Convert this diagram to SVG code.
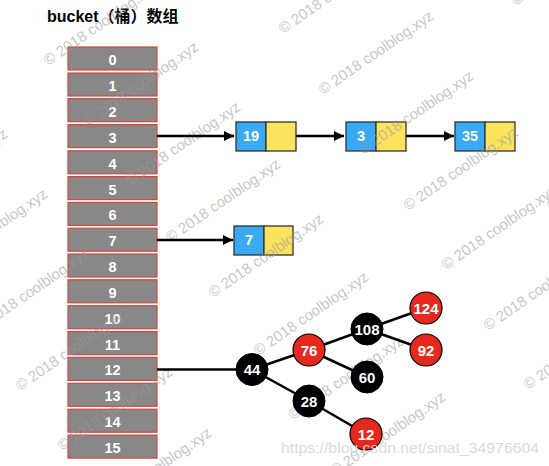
<svg xmlns="http://www.w3.org/2000/svg" width="549" height="466" viewBox="0 0 549 466">
<style>
.cell rect{fill:#888888;stroke:#d8453b;stroke-width:1.2}
.cell text,.lbl{font-family:"Liberation Sans",Arial,sans-serif;font-weight:bold;font-size:14.5px;fill:#fff;text-anchor:middle}
.blue{fill:#3aa9f4;stroke:#333;stroke-width:1.3}
.yel{fill:#fbe35e;stroke:#333;stroke-width:1.3}
.blk{fill:#000;stroke:#000;stroke-width:1}
.red{fill:#e7291d;stroke:#000;stroke-width:1.2}
.edge{stroke:#000;stroke-width:2.5;fill:none}
.tn{font-family:"Liberation Sans",Arial,sans-serif;font-weight:bold;font-size:15px;fill:#fff;text-anchor:middle}
.wm{font-family:"Liberation Sans",Arial,sans-serif;font-size:15px;fill:#9a9a9a;opacity:0.55}
</style>
<defs>
<marker id="ah" viewBox="0 0 10 10" refX="10" refY="5" markerWidth="4" markerHeight="4" orient="auto" markerUnits="strokeWidth">
<path d="M0,0 L10,5 L0,10 z" fill="#000"/>
</marker>
</defs>
<rect width="549" height="466" fill="#fff"/>
<text x="47" y="22" font-family="'Liberation Sans','Noto Sans CJK SC',sans-serif" font-weight="bold" font-size="16" fill="#000">bucket（桶）数组</text>

<g id="bucket">
<g class="cell" id="b0"><rect x="68" y="47" width="89" height="23"/><text x="112.5" y="65">0</text></g>
<g class="cell" id="b1"><rect x="68" y="73" width="89" height="23"/><text x="112.5" y="91">1</text></g>
<g class="cell" id="b2"><rect x="68" y="98.7" width="89" height="23"/><text x="112.5" y="116.7">2</text></g>
<g class="cell" id="b3"><rect x="68" y="124.6" width="89" height="23"/><text x="112.5" y="142.6">3</text></g>
<g class="cell" id="b4"><rect x="68" y="150.8" width="89" height="23"/><text x="112.5" y="168.8">4</text></g>
<g class="cell" id="b5"><rect x="68" y="176.6" width="89" height="23"/><text x="112.5" y="194.6">5</text></g>
<g class="cell" id="b6"><rect x="68" y="202.4" width="89" height="23"/><text x="112.5" y="220.4">6</text></g>
<g class="cell" id="b7"><rect x="68" y="228.2" width="89" height="23"/><text x="112.5" y="246.2">7</text></g>
<g class="cell" id="b8"><rect x="68" y="254" width="89" height="23"/><text x="112.5" y="272">8</text></g>
<g class="cell" id="b9"><rect x="68" y="279.8" width="89" height="23"/><text x="112.5" y="297.8">9</text></g>
<g class="cell" id="b10"><rect x="68" y="305.7" width="89" height="23"/><text x="112.5" y="323.7">10</text></g>
<g class="cell" id="b11"><rect x="68" y="331.6" width="89" height="23"/><text x="112.5" y="349.6">11</text></g>
<g class="cell" id="b12"><rect x="68" y="357.4" width="89" height="23"/><text x="112.5" y="375.4">12</text></g>
<g class="cell" id="b13"><rect x="68" y="383.3" width="89" height="23"/><text x="112.5" y="401.3">13</text></g>
<g class="cell" id="b14"><rect x="68" y="409.2" width="89" height="23"/><text x="112.5" y="427.2">14</text></g>
<g class="cell" id="b15"><rect x="68" y="435.1" width="89" height="23"/><text x="112.5" y="453.1">15</text></g>
</g>

<g id="n19"><rect class="blue" x="236" y="122" width="30" height="29"/><rect class="yel" x="266" y="122" width="30" height="29"/><text class="lbl" x="251" y="141">19</text></g>
<g id="n3"><rect class="blue" x="346" y="122" width="30" height="29"/><rect class="yel" x="376" y="122" width="30" height="29"/><text class="lbl" x="361" y="141">3</text></g>
<g id="n35"><rect class="blue" x="455" y="122" width="30" height="29"/><rect class="yel" x="485" y="122" width="30" height="29"/><text class="lbl" x="470" y="141">35</text></g>
<g id="n7"><rect class="blue" x="234" y="226" width="30" height="29"/><rect class="yel" x="264" y="226" width="29" height="29"/><text class="lbl" x="249" y="245">7</text></g>

<g id="watermarks">
<text class="wm" transform="translate(48,66) rotate(-34.5)">© 2018 coolblog.xyz</text>
<text class="wm" transform="translate(88,126) rotate(-34.5)">© 2018 coolblog.xyz</text>
<text class="wm" transform="translate(130,186) rotate(-34.5)">© 2018 coolblog.xyz</text>
<text class="wm" transform="translate(283,34) rotate(-34.5)">© 2018 coolblog.xyz</text>
<text class="wm" transform="translate(323,95) rotate(-34.5)">© 2018 coolblog.xyz</text>
<text class="wm" transform="translate(516,6) rotate(-34.5)">© 2018 coolblog.xyz</text>
<text class="wm" transform="translate(363,155) rotate(-34.5)">© 2018 coolblog.xyz</text>
<text class="wm" transform="translate(408,211) rotate(-34.5)">© 2018 coolblog.xyz</text>
<text class="wm" transform="translate(446,270) rotate(-34.5)">© 2018 coolblog.xyz</text>
<text class="wm" transform="translate(488,331) rotate(-34.5)">© 2018 coolblog.xyz</text>
<text class="wm" transform="translate(528,390) rotate(-34.5)">© 2018 coolblog.xyz</text>
<text class="wm" transform="translate(170,243) rotate(-34.5)">© 2018 coolblog.xyz</text>
<text class="wm" transform="translate(213,298) rotate(-34.5)">© 2018 coolblog.xyz</text>
<text class="wm" transform="translate(258,356) rotate(-34.5)">© 2018 coolblog.xyz</text>
<text class="wm" transform="translate(293,420) rotate(-34.5)">© 2018 coolblog.xyz</text>
<text class="wm" transform="translate(335,476) rotate(-34.5)">© 2018 coolblog.xyz</text>
<text class="wm" transform="translate(101,512) rotate(-34.5)">© 2018 coolblog.xyz</text>
<text class="wm" transform="translate(20,391) rotate(-34.5)">© 2018 coolblog.xyz</text>
<text class="wm" transform="translate(62,451) rotate(-34.5)">© 2018 coolblog.xyz</text>
<text class="wm" transform="translate(-21,333) rotate(-34.5)">© 2018 coolblog.xyz</text>
<text class="wm" transform="translate(-63,273) rotate(-34.5)">© 2018 coolblog.xyz</text>
<text class="wm" transform="translate(-103,213) rotate(-34.5)">© 2018 coolblog.xyz</text>
</g>

<g id="connectors">
<line class="edge" x1="157" y1="136" x2="234" y2="136" marker-end="url(#ah)"/>
<line class="edge" x1="296" y1="136" x2="344" y2="136" marker-end="url(#ah)"/>
<line class="edge" x1="406" y1="136" x2="454" y2="136" marker-end="url(#ah)"/>
<line class="edge" x1="157" y1="240" x2="233" y2="240" marker-end="url(#ah)"/>
<line class="edge" x1="157" y1="369.5" x2="252" y2="369.5"/>
<line class="edge" x1="252" y1="369.5" x2="309" y2="350"/>
<line class="edge" x1="252" y1="369.5" x2="309" y2="401"/>
<line class="edge" x1="309" y1="350" x2="367" y2="329"/>
<line class="edge" x1="309" y1="350" x2="367" y2="377"/>
<line class="edge" x1="367" y1="329" x2="426" y2="308"/>
<line class="edge" x1="367" y1="329" x2="426" y2="350"/>
<line class="edge" x1="309" y1="401" x2="366" y2="434"/>
</g>

<g id="t44"><circle class="blk" cx="252" cy="369.5" r="16"/><text class="tn" x="252" y="375">44</text></g>
<g id="t76"><circle class="red" cx="309" cy="350" r="16"/><text class="tn" x="309" y="355.5">76</text></g>
<g id="t28"><circle class="blk" cx="309" cy="401" r="16"/><text class="tn" x="309" y="406.5">28</text></g>
<g id="t108"><circle class="blk" cx="367" cy="329" r="16"/><text class="tn" x="367" y="334.5">108</text></g>
<g id="t60"><circle class="blk" cx="367" cy="377" r="16"/><text class="tn" x="367" y="382.5">60</text></g>
<g id="t124"><circle class="red" cx="426" cy="308" r="16"/><text class="tn" x="426" y="313.5">124</text></g>
<g id="t92"><circle class="red" cx="426" cy="350" r="16"/><text class="tn" x="426" y="355.5">92</text></g>
<g id="t12"><circle class="red" cx="366" cy="434" r="16"/><text class="tn" x="366" y="439.5">12</text></g>

<text x="281" y="453" font-family="'Liberation Sans',Arial,sans-serif" font-size="15.5" fill="#d8d8d8" opacity="0.9" textLength="258" lengthAdjust="spacingAndGlyphs">https://blog.csdn.net/sinat_34976604</text>
</svg>
